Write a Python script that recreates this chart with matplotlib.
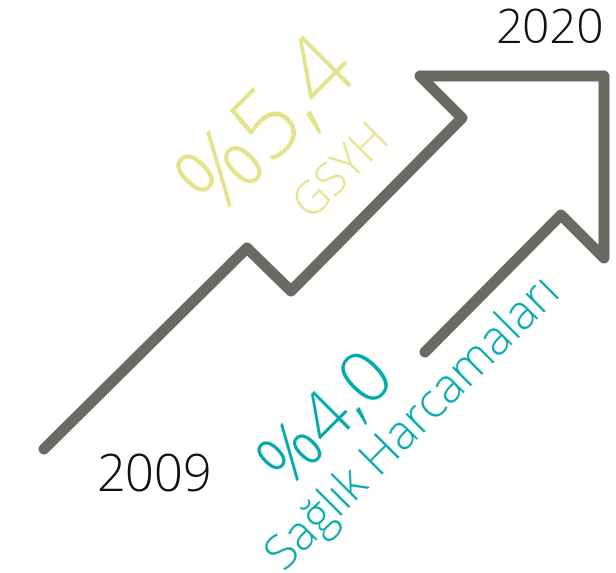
import matplotlib
matplotlib.use("Agg")
import numpy as np
import matplotlib.pyplot as plt
from matplotlib.textpath import TextPath
from matplotlib.font_manager import FontProperties

# Data
path_x = [44, 247, 291, 462, 420, 604, 604, 561, 425]
path_y = [449, 248, 291, 118, 76, 76, 258, 215, 352]
year_labels = ["2009", "2020"]
gdp_value = "%5,4"
gdp_label = "GSYH"
health_value = "%4,0"
health_label = "Sağlık Harcamaları"

W, H = 616, 573
DPI = 100
PX = DPI / 72.0
fig = plt.figure(figsize=(W / DPI, H / DPI), dpi=DPI)
ax = fig.add_axes([0, 0, 1, 1])
ax.set_xlim(0, W)
ax.set_ylim(H, 0)
ax.axis("off")

GRAY = "#6a6a62"
YELLOW = "#e3e38a"
TEAL = "#00a9a8"
FONT = ["Open Sans", "DejaVu Sans"]
FP = FontProperties(family=FONT, weight="light")


def ext(s, size=100.0):
    return TextPath((0, 0), s, size=size, prop=FP).get_extents()


def size_for_height(s, px):
    return 100.0 * px / (ext(s).height * PX)


def size_for_width(s, px):
    return 100.0 * px / (ext(s).width * PX)


def four_stem(size):
    v = TextPath((0, 0), "4", size=size, prop=FP).vertices
    top = v[:, 1].max()
    return v[v[:, 1] > top - 0.03 * size][:, 0].mean()


def uv(theta):
    t = np.radians(theta)
    return np.array([np.cos(t), -np.sin(t)]), np.array([-np.sin(t), -np.cos(t)])


def anchor(theta, feat, offset_px, base):
    u, v = uv(theta)
    return (np.dot(feat, u) - offset_px) * u + np.dot(base, v) * v


ax.plot(path_x, path_y, color=GRAY, lw=7.9, solid_capstyle="round",
        solid_joinstyle="round")

# years: target ink box (left, top, right, bottom) in image pixels
for lab, left, top, right, bottom in [(year_labels[0], 100, 454, 207, 492),
                                      (year_labels[1], 500, 7, 600, 43)]:
    fs = 0.5 * (size_for_height(lab, bottom - top) + size_for_width(lab, right - left))
    e = ext(lab, fs)
    cx = 0.5 * (left + right)
    x0 = cx - 0.5 * (e.x0 + e.x1) * PX
    y0 = bottom + e.y0 * PX
    ax.text(x0, y0, lab, fontsize=fs, family=FONT, weight="light",
            color="#111111", ha="left", va="baseline")

fs = size_for_height("4", 68.3)
off = (ext(gdp_value, fs).x1 - ext("4", fs).x1 + four_stem(fs)) * PX
a = anchor(45, (350, 82), off, (350, 82))
ax.text(a[0], a[1], gdp_value, fontsize=fs, family=FONT, weight="light",
        color=YELLOW, rotation=45, rotation_mode="anchor",
        ha="left", va="baseline")

fs = size_for_height("H", 32.5)
off = ext(gdp_label, fs).x1 * PX - 1.2
a = anchor(45, (386.7, 143.3), off, (386.7, 143.3))
ax.text(a[0], a[1], gdp_label, fontsize=fs, family=FONT, weight="light",
        color=YELLOW, rotation=45, rotation_mode="anchor",
        ha="left", va="baseline")

fs = size_for_height("4", 51.8)
off = (ext("%4", fs).x1 - ext("4", fs).x1 + four_stem(fs)) * PX
a = anchor(45, (348.3, 426), off, (348.3, 426))
ax.text(a[0], a[1], health_value, fontsize=fs, family=FONT, weight="light",
        color=TEAL, rotation=45, rotation_mode="anchor",
        ha="left", va="baseline")

fs = size_for_width(health_label, 387)
off = ext(health_label, fs).x1 * PX - 1.2
a = anchor(45, (559.3, 298.3), off, (559.3, 298.3))
ax.text(a[0], a[1], health_label, fontsize=fs, family=FONT, weight="light",
        color=TEAL, rotation=45, rotation_mode="anchor",
        ha="left", va="baseline")

fig.savefig("out.png", dpi=DPI)
